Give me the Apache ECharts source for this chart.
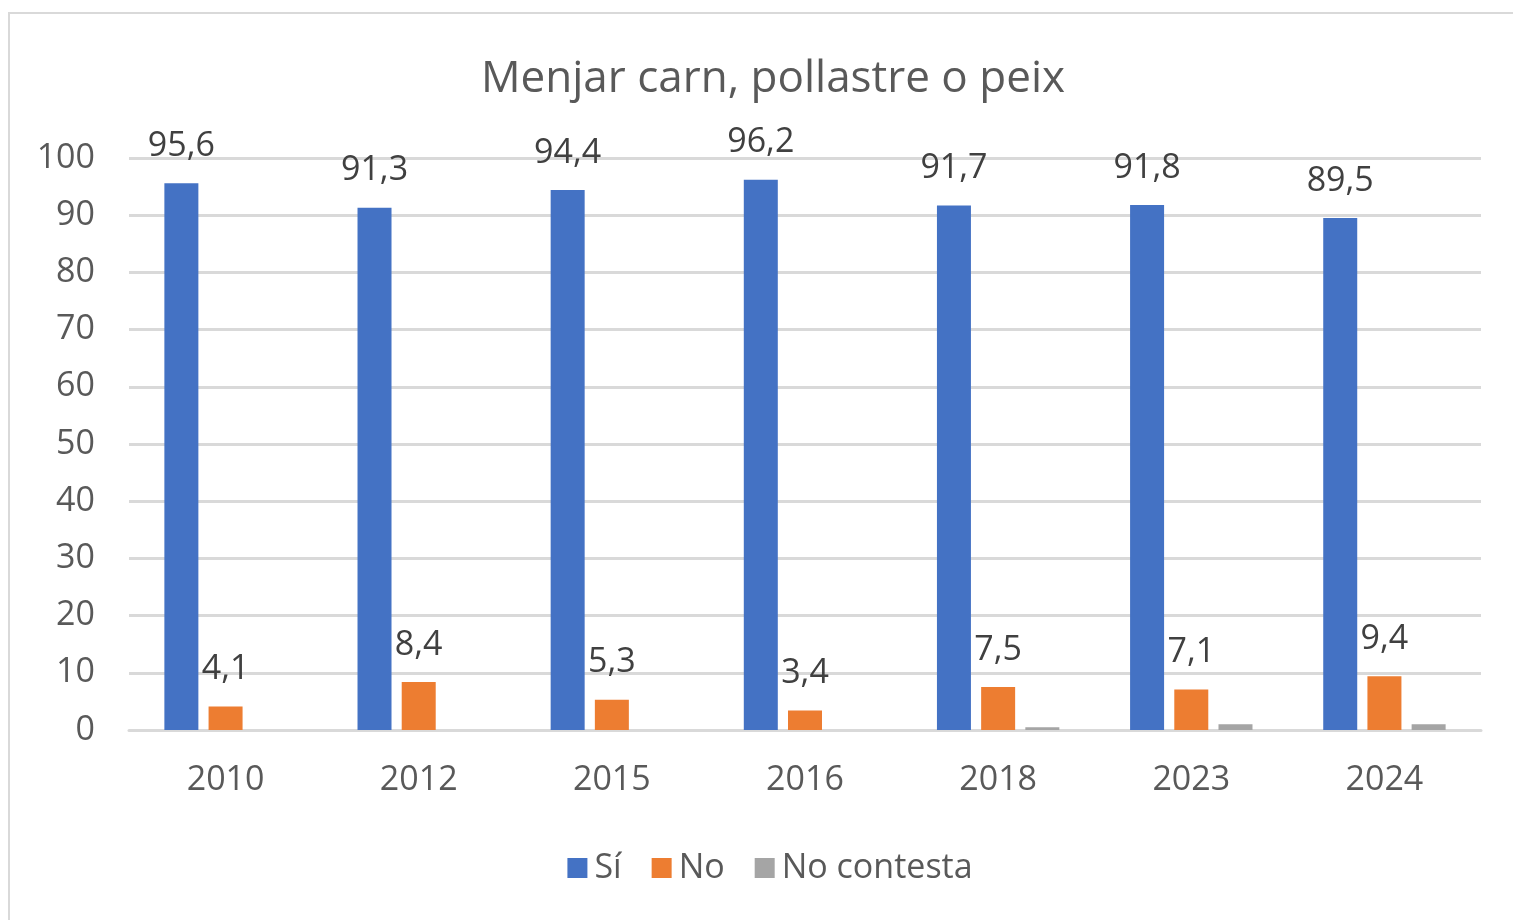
<!DOCTYPE html>
<html>
<head>
<meta charset="utf-8">
<script src="https://cdn.jsdelivr.net/npm/echarts@6/dist/echarts.min.js"></script>
<style>
  html, body { margin: 0; padding: 0; background: #fff; overflow: hidden; }
  #frame {
    position: absolute;
    left: 8px;
    top: 12px;
    width: 1520px;
    height: 920px;
    border: 2px solid #d9d9d9;
    background: #fff;
  }
  #chart { width: 1520px; height: 920px; }
</style>
</head>
<body>
<div id="frame"><div id="chart"></div></div>
<script>
// dades
const years = ["2010", "2012", "2015", "2016", "2018", "2023", "2024"];
const si = [95.6, 91.3, 94.4, 96.2, 91.7, 91.8, 89.5];
const no = [4.1, 8.4, 5.3, 3.4, 7.5, 7.1, 9.4];
const noContesta = [null, null, null, null, 0.5, 1.0, 1.0];
const yTicks = [0, 10, 20, 30, 40, 50, 60, 70, 80, 90, 100];

const font = "Open Sans";
const textColor = "#595959";

const chart = echarts.init(document.getElementById("chart"));

const fmt = p => String(p.value).replace(".", ",");

chart.setOption({
  animation: false,
  textStyle: { fontFamily: font, color: textColor },
  title: {
    text: "Menjar carn, pollastre o peix",
    left: 758,
    textAlign: "center",
    top: 38,
    textStyle: { fontFamily: font, fontSize: 44, fontWeight: "normal", color: textColor }
  },
  legend: {
    left: "center",
    top: 832,
    itemWidth: 20,
    itemHeight: 20,
    itemGap: 30,
    icon: "rect",
    textStyle: { fontFamily: font, fontSize: 34, color: textColor, padding: [0, 0, 0, 2] },
    data: ["Sí", "No", "No contesta"]
  },
  grid: { left: 119, top: 144, width: 1352, height: 572 },
  xAxis: {
    type: "category",
    data: years,
    axisLine: { lineStyle: { color: "#d9d9d9", width: 3 } },
    axisTick: { show: false },
    axisLabel: { fontFamily: font, fontSize: 34, color: textColor, margin: 33 }
  },
  yAxis: {
    type: "value",
    min: yTicks[0],
    max: yTicks[yTicks.length - 1],
    interval: 10,
    axisLine: { show: false },
    axisTick: { show: false },
    splitLine: { lineStyle: { color: "#d9d9d9", width: 3 } },
    axisLabel: { fontFamily: font, fontSize: 34, color: textColor, margin: 34 }
  },
  series: [
    {
      name: "Sí",
      type: "bar",
      data: si,
      barWidth: 34,
      barGap: "30%",
      itemStyle: { color: "#4472c4" },
      label: {
        show: true, position: "top", distance: 20, formatter: fmt,
        fontFamily: font, fontSize: 34, color: "#404040"
      }
    },
    {
      name: "No",
      type: "bar",
      data: no,
      barWidth: 34,
      itemStyle: { color: "#ed7d31" },
      label: {
        show: true, position: "top", distance: 20, formatter: fmt,
        fontFamily: font, fontSize: 34, color: "#404040"
      }
    },
    {
      name: "No contesta",
      type: "bar",
      data: noContesta,
      barWidth: 34,
      itemStyle: { color: "#a5a5a5" }
    }
  ]
});
</script>
</body>
</html>
